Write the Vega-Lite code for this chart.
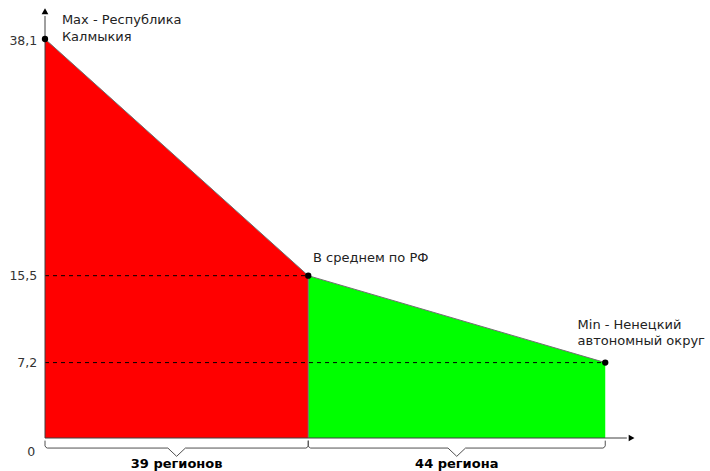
{
  "$schema": "https://vega.github.io/schema/vega-lite/v6.json",
  "width": 710,
  "height": 471,
  "autosize": {"type": "none"},
  "padding": 0,
  "background": "white",
  "config": {"view": {"stroke": null}, "text": {"font": "DejaVu Sans", "fontSize": 13}},
  "datasets": {
    "areas": [
      {"seg": "a", "x": 0, "y": 38.1},
      {"seg": "a", "x": 39, "y": 15.5},
      {"seg": "b", "x": 39, "y": 15.5},
      {"seg": "b", "x": 83, "y": 7.2}
    ],
    "edge": [
      {"g": "top", "i": 1, "x": 0, "y": 38.1},
      {"g": "top", "i": 2, "x": 39, "y": 15.5},
      {"g": "top", "i": 3, "x": 83, "y": 7.2},
      {"g": "mid", "i": 1, "x": 39, "y": 15.5},
      {"g": "mid", "i": 2, "x": 39, "y": 0}
    ],
    "dashes": [
      {"x": 0, "x2": 39, "y": 15.5},
      {"x": 0, "x2": 83, "y": 7.2}
    ],
    "axes": [
      {"x": 0, "x2": 86.2, "y": 0, "y2": 0},
      {"x": 0, "x2": 0, "y": 0, "y2": 40.3}
    ],
    "arrows": [
      {"x": 0, "y": 40.75, "shape": "triangle-up"},
      {"x": 86.9, "y": 0, "shape": "triangle-right"}
    ],
    "points": [
      {"x": 0, "y": 38.1},
      {"x": 39, "y": 15.5},
      {"x": 83, "y": 7.2}
    ],
    "braces": [
      {"b": 1, "i": 1, "x": 0, "y": -0.25},
      {"b": 1, "i": 2, "x": 0, "y": -0.75},
      {"b": 1, "i": 3, "x": 0.15, "y": -0.9},
      {"b": 1, "i": 4, "x": 0.35, "y": -0.96},
      {"b": 1, "i": 5, "x": 18.2, "y": -0.96},
      {"b": 1, "i": 6, "x": 19.5, "y": -1.75},
      {"b": 1, "i": 7, "x": 20.8, "y": -0.96},
      {"b": 1, "i": 8, "x": 38.65, "y": -0.96},
      {"b": 1, "i": 9, "x": 38.85, "y": -0.9},
      {"b": 1, "i": 10, "x": 39, "y": -0.75},
      {"b": 1, "i": 11, "x": 39, "y": -0.25},
      {"b": 2, "i": 1, "x": 39, "y": -0.25},
      {"b": 2, "i": 2, "x": 39, "y": -0.75},
      {"b": 2, "i": 3, "x": 39.15, "y": -0.9},
      {"b": 2, "i": 4, "x": 39.35, "y": -0.96},
      {"b": 2, "i": 5, "x": 59.7, "y": -0.96},
      {"b": 2, "i": 6, "x": 61, "y": -1.75},
      {"b": 2, "i": 7, "x": 62.3, "y": -0.96},
      {"b": 2, "i": 8, "x": 82.65, "y": -0.96},
      {"b": 2, "i": 9, "x": 82.85, "y": -0.9},
      {"b": 2, "i": 10, "x": 83, "y": -0.75},
      {"b": 2, "i": 11, "x": 83, "y": -0.25}
    ],
    "labels": [
      {"x": 2.5, "y": 39.92, "t": "Max - Республика"},
      {"x": 2.5, "y": 38.3, "t": "Калмыкия"},
      {"x": 39.7, "y": 17.2, "t": "В среднем по РФ"},
      {"x": 78.9, "y": 10.8, "t": "Min - Ненецкий"},
      {"x": 78.9, "y": 9.25, "t": "автономный округ"}
    ],
    "groups": [
      {"x": 19.5, "y": -2.45, "t": "39 регионов"},
      {"x": 61, "y": -2.45, "t": "44 региона"}
    ],
    "ticks": [
      {"x": -1.15, "y": 37.95, "t": "38,1"},
      {"x": -1.15, "y": 15.5, "t": "15,5"},
      {"x": -1.15, "y": 7.2, "t": "7,2"},
      {"x": -1.45, "y": -1.3, "t": "0"}
    ]
  },
  "encoding": {
    "x": {"field": "x", "type": "quantitative", "axis": null, "scale": {"domain": [-6.667, 98.52], "nice": false, "zero": false}},
    "y": {"field": "y", "type": "quantitative", "axis": null, "scale": {"domain": [-3.151, 41.826], "nice": false, "zero": false}}
  },
  "layer": [
    {
      "data": {"name": "areas"},
      "mark": {"type": "area", "opacity": 1},
      "encoding": {
        "y2": {"datum": 0},
        "color": {"field": "seg", "type": "nominal", "legend": null, "scale": {"domain": ["a", "b"], "range": ["#ff0000", "#00ff00"]}}
      }
    },
    {
      "data": {"name": "edge"},
      "mark": {"type": "line", "color": "#707070", "strokeWidth": 1},
      "encoding": {"detail": {"field": "g"}, "order": {"field": "i", "type": "quantitative"}}
    },
    {
      "data": {"name": "dashes"},
      "mark": {"type": "rule", "color": "#000000", "strokeWidth": 1, "strokeDash": [4, 4]},
      "encoding": {"x2": {"field": "x2"}}
    },
    {
      "data": {"name": "axes"},
      "mark": {"type": "rule", "color": "#404040", "strokeWidth": 1},
      "encoding": {"x2": {"field": "x2"}, "y2": {"field": "y2"}}
    },
    {
      "data": {"name": "arrows"},
      "mark": {"type": "point", "filled": true, "color": "#000000", "opacity": 1, "size": 45},
      "encoding": {"shape": {"field": "shape", "type": "nominal", "scale": null}}
    },
    {
      "data": {"name": "braces"},
      "mark": {"type": "line", "color": "#505050", "strokeWidth": 1},
      "encoding": {"detail": {"field": "b"}, "order": {"field": "i", "type": "quantitative"}}
    },
    {
      "data": {"name": "points"},
      "mark": {"type": "circle", "color": "#000000", "opacity": 1, "size": 40}
    },
    {
      "data": {"name": "labels"},
      "mark": {"type": "text", "align": "left", "baseline": "middle", "color": "#222222"},
      "encoding": {"text": {"field": "t"}}
    },
    {
      "data": {"name": "groups"},
      "mark": {"type": "text", "align": "center", "baseline": "middle", "color": "#000000", "fontWeight": "bold", "fontSize": 13}
    ,
      "encoding": {"text": {"field": "t"}}
    },
    {
      "data": {"name": "ticks"},
      "mark": {"type": "text", "align": "right", "baseline": "middle", "color": "#333333", "fontSize": 12.5},
      "encoding": {"text": {"field": "t"}}
    }
  ]
}
